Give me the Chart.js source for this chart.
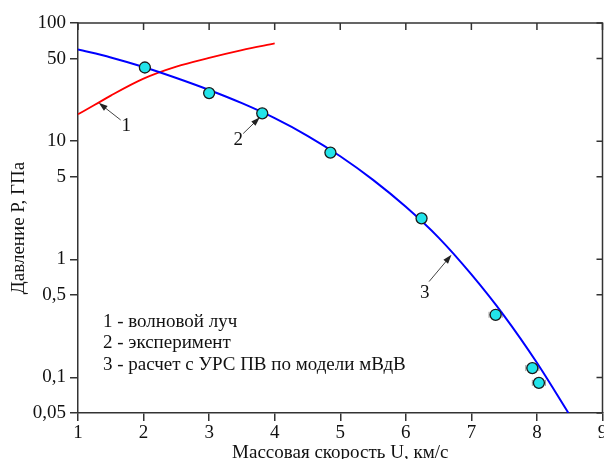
<!DOCTYPE html>
<html>
<head>
<meta charset="utf-8">
<script src="https://cdn.jsdelivr.net/npm/chart.js@4.4.1/dist/chart.umd.min.js"></script>
<style>
  html, body { margin: 0; padding: 0; background: #fff; }
</style>
</head>
<body>
<canvas id="chart" width="604" height="459"></canvas>
<script>
// --- data ---
const xTicks = [1, 2, 3, 4, 5, 6, 7, 8, 9];
const yTicks = [0.05, 0.1, 0.5, 1, 5, 10, 50, 100];

// curve 3: calculation (blue)
const calcU = [1, 1.5, 2, 2.5, 3, 3.5, 4, 4.5, 5, 5.5, 6, 6.5, 7, 7.5, 8, 8.48];
const calcP = [59.7, 51.1, 42.4, 34.2, 27.1, 20.95, 15.65, 11.1, 7.45, 4.7, 2.78, 1.525, 0.744, 0.332, 0.133, 0.05];

// curve 1: wave ray (red)
const rayU = [1, 1.25, 1.5, 2, 2.5, 3, 3.5, 4];
const rayP = [16.9, 20.2, 24.3, 33.8, 42.7, 50.6, 58.9, 67.1];

// 2: experiment
const expU = [2.02, 3.0, 3.81, 4.85, 6.24, 7.37, 7.93, 8.03];
const expP = [42, 25.5, 17.2, 8.0, 2.22, 0.339, 0.12, 0.09];
const expErrU = [0, 0, 0, 0, 0, 0.1, 0.1, 0.1];

// curve labels with arrows: [text, textU, textP, fromU, fromP, tipU, tipP]
const curveLabels = [
  ['1', 1.736, 13.4, 1.651, 15.1, 1.316, 21.1],
  ['2', 3.444, 10.2, 3.52, 11.6, 3.774, 15.9],
  ['3', 6.29, 0.517, 6.355, 0.648, 6.697, 1.09]
];

const legendLines = [
  '1 - волновой луч',
  '2 - эксперимент',
  '3 - расчет с УРС ПВ по модели мВдВ'
];

const yTitle = 'Давление Р, ГПа';

const FONT = 'Liberation Serif';
const AXIS = '#333';

function toPoints(xs, ys) {
  return xs.map((x, i) => ({ x, y: ys[i] }));
}

// frame: top and right axes with inward ticks
const framePlugin = {
  id: 'frame',
  afterDatasetsDraw(chart) {
    const { ctx, chartArea: a, scales } = chart;
    ctx.save();
    ctx.strokeStyle = AXIS;
    ctx.lineWidth = 1.5;
    ctx.beginPath();
    ctx.moveTo(a.left, a.top);
    ctx.lineTo(a.right, a.top);
    ctx.lineTo(a.right, a.bottom);
    ctx.stroke();
    ctx.beginPath();
    xTicks.forEach(v => {
      const px = scales.x.getPixelForValue(v);
      ctx.moveTo(px, a.top);
      ctx.lineTo(px, a.top + 7);
    });
    yTicks.forEach(v => {
      const py = scales.y.getPixelForValue(v);
      ctx.moveTo(a.right, py);
      ctx.lineTo(a.right - 6, py);
    });
    ctx.stroke();

    // y axis title, sits a bit below the plot centre in the original
    ctx.translate(19, (a.top + a.bottom) / 2 + 10);
    ctx.rotate(-Math.PI / 2);
    ctx.font = '19px "' + FONT + '"';
    ctx.fillStyle = '#111';
    ctx.textAlign = 'center';
    ctx.textBaseline = 'middle';
    ctx.fillText(yTitle, 0, 0);
    ctx.restore();
  }
};

// small horizontal error bars on the experiment points
const errorPlugin = {
  id: 'errors',
  beforeDatasetsDraw(chart) {
    const { ctx, scales } = chart;
    ctx.save();
    ctx.strokeStyle = '#999';
    ctx.lineWidth = 1;
    expU.forEach((u, i) => {
      if (!expErrU[i]) return;
      const x1 = scales.x.getPixelForValue(u - expErrU[i]);
      const x2 = scales.x.getPixelForValue(u + expErrU[i]);
      const y = scales.y.getPixelForValue(expP[i]);
      ctx.beginPath();
      ctx.moveTo(x1, y); ctx.lineTo(x2, y);
      ctx.moveTo(x1, y - 3); ctx.lineTo(x1, y + 3);
      ctx.moveTo(x2, y - 3); ctx.lineTo(x2, y + 3);
      ctx.stroke();
    });
    ctx.restore();
  }
};

// numbered curve labels with arrows, plus the text legend
const notesPlugin = {
  id: 'notes',
  afterDatasetsDraw(chart) {
    const { ctx, scales } = chart;
    const X = v => scales.x.getPixelForValue(v);
    const Y = v => scales.y.getPixelForValue(v);
    ctx.save();
    ctx.font = '19px "' + FONT + '"';
    ctx.fillStyle = '#111';
    ctx.textAlign = 'center';
    ctx.textBaseline = 'middle';
    curveLabels.forEach(([t, tu, tp, fu, fp, au, ap]) => {
      ctx.fillText(t, X(tu), Y(tp));
      const x0 = X(fu), y0 = Y(fp), x1 = X(au), y1 = Y(ap);
      const ang = Math.atan2(y1 - y0, x1 - x0);
      const c = Math.cos(ang), s = Math.sin(ang);
      ctx.strokeStyle = '#444';
      ctx.lineWidth = 1;
      ctx.beginPath();
      ctx.moveTo(x0, y0);
      ctx.lineTo(x1 - 5 * c, y1 - 5 * s);
      ctx.stroke();
      ctx.fillStyle = '#222';
      ctx.beginPath();
      ctx.moveTo(x1, y1);
      ctx.lineTo(x1 - 9 * c + 3 * s, y1 - 9 * s - 3 * c);
      ctx.lineTo(x1 - 9 * c - 3 * s, y1 - 9 * s + 3 * c);
      ctx.closePath();
      ctx.fill();
      ctx.fillStyle = '#111';
    });
    ctx.textAlign = 'left';
    const lx = X(1.38);
    const ly = Y(0.296);
    legendLines.forEach((t, i) => ctx.fillText(t, lx, ly + i * 21.5));
    ctx.restore();
  }
};

new Chart(document.getElementById('chart'), {
  type: 'scatter',
  data: {
    datasets: [
      {
        label: 'эксперимент',
        data: toPoints(expU, expP),
        pointRadius: 5.5,
        pointBackgroundColor: '#22e4ea',
        pointBorderColor: '#1a1a1a',
        pointBorderWidth: 1.3,
        showLine: false
      },
      {
        label: 'расчет',
        data: toPoints(calcU, calcP),
        showLine: true,
        borderColor: '#0000ff',
        borderWidth: 2,
        pointRadius: 0,
        cubicInterpolationMode: 'monotone'
      },
      {
        label: 'волновой луч',
        data: toPoints(rayU, rayP),
        showLine: true,
        borderColor: '#ff0000',
        borderWidth: 1.8,
        pointRadius: 0,
        cubicInterpolationMode: 'monotone'
      }
    ]
  },
  options: {
    responsive: false,
    animation: false,
    layout: { autoPadding: false, padding: { top: 23, right: 1.5, left: 0, bottom: 0 } },
    plugins: {
      legend: { display: false },
      tooltip: { enabled: false }
    },
    scales: {
      x: {
        type: 'linear',
        min: 1,
        max: 9,
        afterBuildTicks: s => { s.ticks = xTicks.map(v => ({ value: v })); },
        afterFit: s => { s.height = 46; s.paddingLeft = 0; s.paddingRight = 0; },
        grid: { drawOnChartArea: false, drawTicks: true, tickLength: 8, color: AXIS, lineWidth: 1.5 },
        border: { display: true, color: AXIS, width: 1.5 },
        ticks: { color: '#111', padding: 1, font: { family: FONT, size: 19 }, maxRotation: 0 },
        title: {
          display: true,
          text: 'Массовая скорость U, км/с',
          color: '#111',
          font: { family: FONT, size: 19, lineHeight: 1 },
          padding: { top: 0, bottom: -4 }
        }
      },
      y: {
        type: 'logarithmic',
        min: 0.05,
        max: 100,
        afterBuildTicks: s => { s.ticks = yTicks.map(v => ({ value: v })); },
        afterFit: s => { s.width = 78; },
        grid: { drawOnChartArea: false, drawTicks: true, tickLength: 8, color: AXIS, lineWidth: 1.5 },
        border: { display: true, color: AXIS, width: 1.5 },
        ticks: {
          color: '#111',
          padding: 4,
          font: { family: FONT, size: 19 },
          callback: v => String(v).replace('.', ',')
        }
      }
    }
  },
  plugins: [errorPlugin, framePlugin, notesPlugin]
});
</script>
</body>
</html>
